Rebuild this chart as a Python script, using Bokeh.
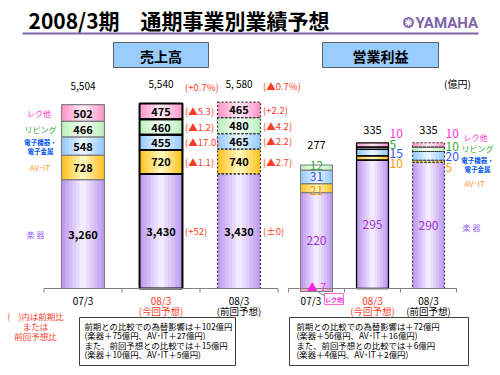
from bokeh.plotting import figure
from bokeh.models import Range1d
from bokeh.core.properties import value
from bokeh.embed import file_html
from bokeh.resources import INLINE

FONT = "Noto Sans CJK JP"

# ---------------- data ----------------
period_labels = ["07/3", "08/3", "08/3"]
period_notes = ["", "(今回予想)", "(前回予想)"]
segment_names = ["楽 器", "AV･IT", "電子機器・|電子金属", "リビング", "レク他"]

# 売上高 (億円)  order: 楽器, AV・IT, 電子機器・電子金属, リビング, レク他
sales_gakki = [3260, 3430, 3430]
sales_avit = [728, 720, 740]
sales_denshi = [548, 455, 465]
sales_living = [466, 460, 480]
sales_rec = [502, 475, 465]
sales_total_labels = ["5,504", "5,540", "5, 580"]
sales_total_change = ["", "(+0.7%)", "(▲0.7%)"]
sales_change_now = ["(+52)", "(▲1.1)", "(▲17.0)", "(▲1.2)", "(▲5.3)"]
sales_change_prev = ["(±0)", "(▲2.7)", "(▲2.2)", "(▲4.2)", "(+2.2)"]

# 営業利益 (億円)
profit_gakki = [220, 295, 290]
profit_avit = [21, 10, 5]
profit_denshi = [31, 15, 20]
profit_living = [12, 5, 10]
profit_rec = [-7, 10, 10]

note_red = ["(　)内は前期比", "または", "前回予想比"]
note_left = ["前期との比較での為替影響は＋102億円", "(楽器＋75億円、AV･IT＋27億円)",
             "また、前回予想との比較では＋15億円", "(楽器＋10億円、AV･IT＋5億円)"]
note_right = ["前期との比較での為替影響は＋72億円", "(楽器＋56億円、AV･IT＋16億円)",
              "また、前回予想との比較では＋6億円", "(楽器＋4億円、AV･IT＋2億円)"]

# ---------------- layout ----------------
W, H = 500, 375
S_X0, S_DX, S_BW = 82.5, 78.0, 0.55
P_X0, P_DX, P_BW = 316.0, 56.0, 0.57
BASE = 288.0
S_K = 0.0334   # px per 億円 (sales)
P_K = 0.435    # px per 億円 (profit)

seg_edge = ["#c19df2", "#ffc629", "#99ccff", "#bff0bf", "#ff99cc"]
seg_center = ["#f4ebff", "#fff5b5", "#e6f4ff", "#f3fff3", "#ffe6f3"]
seg_text = ["#9966ff", "#ff9933", "#0055ee", "#33aa33", "#ff33cc"]
RED = "#ff3b1f"

p = figure(width=W, height=H, x_range=Range1d(0, W), y_range=Range1d(H, 0),
           output_backend="svg", toolbar_location=None, min_border=0,
           x_axis_type=None, y_axis_type=None)
p.grid.visible = False
p.outline_line_color = None
p.background_fill_color = "white"
p.border_fill_color = "white"
p.extra_x_ranges = {"sx": Range1d(-S_X0 / S_DX, (W - S_X0) / S_DX),
                    "px": Range1d(-P_X0 / P_DX, (W - P_X0) / P_DX)}
p.extra_y_ranges = {"sy": Range1d(-(H - BASE) / S_K, BASE / S_K),
                    "py": Range1d(-(H - BASE) / P_K, BASE / P_K)}


def mix(c1, c2, t):
    a = [int(c1[i:i + 2], 16) for i in (1, 3, 5)]
    b = [int(c2[i:i + 2], 16) for i in (1, 3, 5)]
    return "#%02x%02x%02x" % tuple(round(a[j] + (b[j] - a[j]) * t) for j in range(3))


def stack(cols):
    n = len(cols[0])
    pos = [0] * n
    neg = [0] * n
    out = []
    for col in cols:
        bot, top = [], []
        for i, v in enumerate(col):
            if v >= 0:
                bot.append(pos[i]); top.append(pos[i] + v); pos[i] += v
            else:
                bot.append(neg[i]); top.append(neg[i] + v); neg[i] += v
        out.append((bot, top))
    return out


def txt(xs, ys, texts, size, color="black", align="center", baseline="middle",
        bold=False, xr="default", yr="default", font=FONT):
    p.text(x=xs, y=ys, text=texts, text_font=value(font), text_font_size=size,
           text_color=color, text_align=align, text_baseline=baseline,
           text_font_style="bold" if bold else "normal",
           x_range_name=xr, y_range_name=yr)


def draw_stack(cols, width, xr, yr, styles):
    st = stack(cols)
    xs = list(range(len(cols[0])))
    nl = 6
    for s, (bot, top) in enumerate(st):
        for k in range(nl):
            t = k / (nl - 1)
            p.vbar(x=xs, bottom=bot, top=top, width=width * (1 - 0.17 * k),
                   fill_color=mix(seg_edge[s], seg_center[s], t), line_color=None,
                   x_range_name=xr, y_range_name=yr)
    for i in xs:
        for s, (bot, top) in enumerate(st):
            p.vbar(x=[i], bottom=[bot[i]], top=[top[i]], width=width, fill_color=None,
                   x_range_name=xr, y_range_name=yr, **styles[i])
    return st


sales_styles = [dict(line_color="#7f7f7f", line_width=1.2),
                dict(line_color="black", line_width=2),
                dict(line_color="#333333", line_width=1.2, line_dash="2 2")]
profit_styles = [dict(line_color="#7f7f7f", line_width=1.1),
                 dict(line_color="black", line_width=1.3),
                 dict(line_color="#333333", line_width=1.1, line_dash="2 2")]

sales_cols = [sales_gakki, sales_avit, sales_denshi, sales_living, sales_rec]
profit_cols = [profit_gakki, profit_avit, profit_denshi, profit_living, profit_rec]
s_st = draw_stack(sales_cols, S_BW, "sx", "sy", sales_styles)
p_st = draw_stack(profit_cols, P_BW, "px", "py", profit_styles)

# baselines with ticks
for xr, yr, k in (("sx", "sy", S_K), ("px", "py", P_K)):
    n = len(period_labels)
    p.segment(x0=[-0.5], y0=[0], x1=[n - 0.5], y1=[0], line_color="#808080",
              line_width=1, x_range_name=xr, y_range_name=yr)
    bx = [i - 0.5 for i in range(n + 1)]
    p.segment(x0=bx, y0=[0] * len(bx), x1=bx, y1=[-4 / k] * len(bx),
              line_color="#808080", line_width=1, x_range_name=xr, y_range_name=yr)

# sales labels inside bars
xs3 = list(range(3))
for s, (bot, top) in enumerate(s_st):
    mids = [(b + t) / 2 for b, t in zip(bot, top)]
    txt(xs3, mids, [f"{v:,}" for v in sales_cols[s]], "11px", bold=True, xr="sx", yr="sy")
# sales totals
s_tot = [sum(c[i] for c in sales_cols) for i in xs3]
txt(xs3, [t + 19 / S_K for t in s_tot], sales_total_labels, "10px", xr="sx", yr="sy")
txt([1 + 24 / S_DX, 2 + 24 / S_DX], [s_tot[1] + 16 / S_K, s_tot[2] + 16 / S_K],
    sales_total_change[1:], "9.5px", color=RED, align="left", xr="sx", yr="sy")
# sales change labels
for i, labels in ((1, sales_change_now), (2, sales_change_prev)):
    mids = [(b[i] + t[i]) / 2 for b, t in s_st]
    txt([i + 24 / S_DX] * 5, mids, labels, "9.5px", color=RED, align="left",
        xr="sx", yr="sy")


def legend_label(x, y, s, yr="default"):
    name = segment_names[s]
    if "|" in name:
        a, b = name.split("|")
        # screen offset of 4.5 px: frame y grows downward, sales y grows upward
        off = 4.5 if yr == "default" else -4.5 / S_K
        txt([x], [y - off], [a], "6.5px", color=seg_text[s], bold=True, yr=yr)
        txt([x], [y + off], [b], "6.5px", color=seg_text[s], bold=True, yr=yr)
    else:
        txt([x], [y], [name], "8px", color=seg_text[s], yr=yr)


# sales segment legend (left), aligned with 07/3 segments
mids0 = [(b[0] + t[0]) / 2 for b, t in s_st]
for s, lx in zip(range(5), [35, 39.5, 40, 40, 38.5]):
    legend_label(lx, mids0[s], s, yr="sy")

# profit labels
p_tot = [sum(c[i] for c in profit_cols) for i in xs3]
pm = [[(b[i] + t[i]) / 2 for b, t in p_st] for i in xs3]
profit_colors = ["#9933cc", "#ff9900", "#3355ee", "#33aa33", "#ff33dd"]
txt([0] * 4, [pm[0][0], pm[0][1] - 2 / P_K, pm[0][2], pm[0][3] + 2 / P_K],
    [str(v[0]) for v in profit_cols[:4]], "12px", color=profit_colors[:4], xr="px", yr="py")
txt([1, 2], [pm[1][0], pm[2][0]], [str(profit_gakki[1]), str(profit_gakki[2])], "12px",
    color=profit_colors[0], xr="px", yr="py")
side_offsets = {1: [-9, 2, 11, 21], 2: [-9, 4, 14, 25]}
for i in (1, 2):
    segs = [4, 3, 2, 1]
    txt([i + 17 / P_DX] * 4, [p_tot[i] - o / P_K for o in side_offsets[i]],
        [str(profit_cols[s][i]) for s in segs], "12px",
        color=[profit_colors[s] for s in segs], align="left", xr="px", yr="py")
gaps = [23, 13, 13]
txt(xs3, [p_tot[i] + gaps[i] / P_K for i in xs3], [str(t) for t in p_tot], "11px",
    xr="px", yr="py")
# negative rec in 07/3
txt([0], [3 / P_K], ["▲ " + str(abs(profit_rec[0]))], "11px", color="#ff22dd",
    xr="px", yr="py")
p.segment(x0=[314], y0=[289], x1=[325], y1=[296], line_color="#808080", line_width=1)
p.quad(left=[324], right=[343], top=[293], bottom=[304], fill_color="white",
       line_color="#ff66cc", line_width=1)
txt([333.5], [298.5], [segment_names[4]], "6px", color="#ff22dd", bold=True)

# profit segment legend (right)
for s, lx, ly in ((4, 475, 137), (3, 477, 148), (2, 477, 163.5), (1, 474, 183), (0, 471, 227)):
    legend_label(lx, ly, s)

# category labels
txt(xs3, [300] * 3, period_labels, "10px", color=["black", RED, "black"], xr="sx")
txt(xs3[1:], [310] * 2, period_notes[1:], "9.5px", color=[RED, "black"], xr="sx")
txt([-0.1, 1, 2], [300] * 3, period_labels, "10px", color=["black", RED, "black"], xr="px")
txt(xs3[1:], [310] * 2, period_notes[1:], "9.5px", color=[RED, "black"], xr="px")

# unit
txt([457], [83], ["(億円)"], "10px")

# title
txt([28], [19], ["2008/3期　通期事業別業績予想"], "21px", align="left", bold=True)
p.segment(x0=[22], y0=[33], x1=[478], y1=[33], line_color="#8064a8", line_width=2)
p.scatter(x=[408], y=[22], size=11, marker="circle", fill_color="#8a6fb5", line_color=None)
p.scatter(x=[408], y=[22], size=7, marker="asterisk", line_color="white", line_width=1.3)
txt([415], [22.5], ["YAMAHA"], "15px", color="#7d65a8", align="left", bold=True, font="Roboto")

# section headers
p.quad(left=[113, 322], right=[208, 438], top=[42, 42], bottom=[67, 67],
       fill_color="#99ccff", line_color="#606060", line_width=1)
txt([160.5, 380], [55, 55], ["売上高", "営業利益"], "14px", bold=True)

# footnotes
txt([35] * 3, [315, 325, 335], note_red, "8.5px", color=RED)
p.quad(left=[79, 289], right=[235, 468], top=[317, 317], bottom=[365, 365],
       fill_color="white", line_color="#404040", line_width=1)
ly = [325, 334.5, 344, 353.5]
txt([84] * 4, ly, note_left, "8.4px", align="left")
txt([296] * 4, ly, note_right, "8.4px", align="left")

open("out.html", "w").write(file_html(p, INLINE))
